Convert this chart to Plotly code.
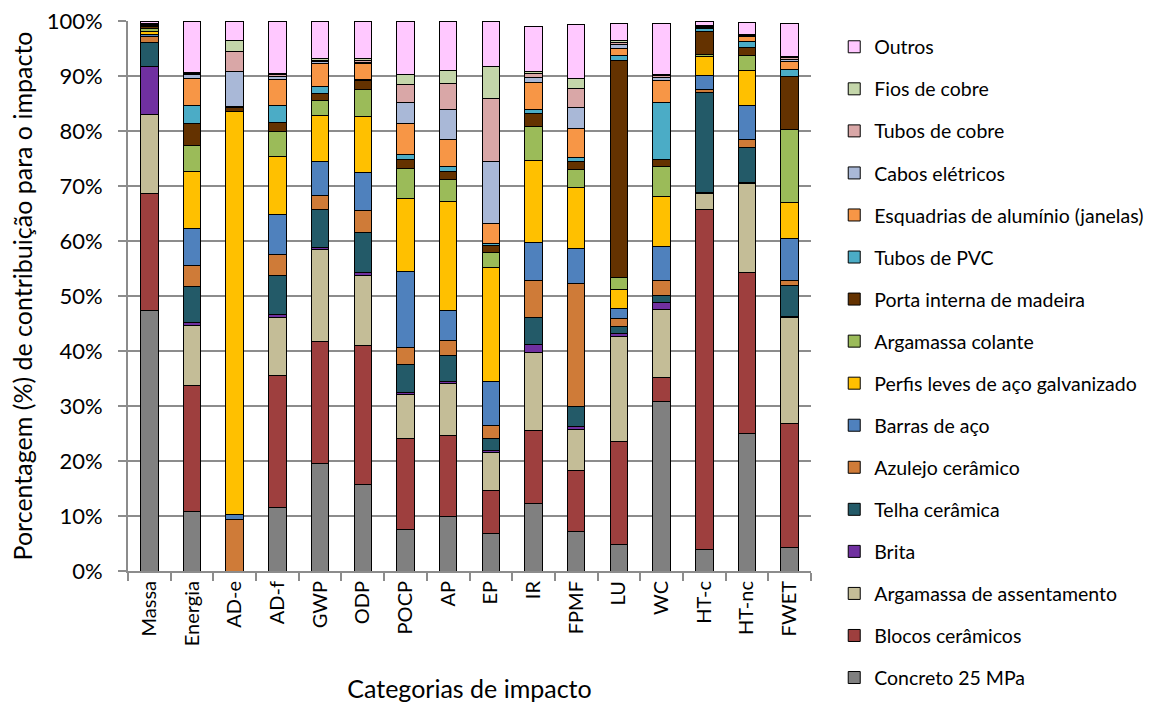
import plotly.graph_objects as go

categories = ["Massa", "Energia", "AD-e", "AD-f", "GWP", "ODP", "POCP", "AP", "EP",
              "IR", "FPMF", "LU", "WC", "HT-c", "HT-nc", "FWET"]

concreto = [47.3, 10.9, 0, 11.6, 19.6, 15.8, 7.5, 10.0, 6.8, 12.3, 7.1, 4.8, 30.8, 4.0, 25.0, 4.3]
blocos = [21.4, 22.9, 0, 24.0, 22.2, 25.2, 16.6, 14.7, 7.9, 13.2, 11.2, 18.8, 4.4, 61.8, 29.3, 22.5]
arg_assent = [14.3, 10.9, 0, 10.5, 16.6, 12.8, 8.0, 9.4, 6.9, 14.3, 7.5, 19.0, 12.3, 2.9, 16.2, 19.3]
brita = [8.8, 0.5, 0, 0.6, 0.5, 0.5, 0.4, 0.4, 0.3, 1.4, 0.4, 0.5, 1.4, 0.1, 0.1, 0.2]
telha = [4.3, 6.6, 0, 7.1, 6.9, 7.3, 5.1, 4.6, 2.2, 4.9, 3.7, 1.4, 1.2, 18.2, 6.4, 5.7]
azulejo = [1.0, 3.7, 9.3, 3.8, 2.5, 4.0, 3.1, 2.9, 2.4, 6.7, 22.4, 1.4, 2.7, 0.5, 1.5, 0.8]
barras = [0.5, 6.8, 1.0, 7.3, 6.2, 6.8, 13.8, 5.3, 8.0, 7.0, 6.4, 1.9, 6.2, 2.6, 6.2, 7.6]
perfis = [0.5, 10.4, 73.2, 10.4, 8.3, 10.3, 13.3, 19.9, 20.7, 14.9, 11.1, 3.4, 9.1, 3.4, 6.3, 6.6]
arg_colante = [0.6, 4.6, 0.0, 4.6, 2.8, 4.9, 5.4, 3.9, 2.7, 6.1, 3.2, 2.2, 5.5, 0.5, 2.7, 13.2]
porta = [0.3, 4.1, 0.7, 1.7, 1.2, 1.5, 1.7, 1.6, 1.2, 2.4, 1.4, 39.5, 1.3, 4.1, 1.5, 9.7]
pvc = [0.2, 3.3, 0.1, 3.1, 1.3, 0.2, 0.9, 0.8, 0.4, 0.7, 0.8, 0.8, 10.3, 0.6, 1.0, 1.3]
esquadrias = [0.1, 4.8, 0.2, 4.7, 4.2, 2.9, 5.6, 5.0, 3.7, 5.0, 5.2, 1.3, 4.0, 0.2, 0.9, 1.4]
cabos = [0.1, 0.7, 6.4, 0.6, 0.3, 0.3, 3.8, 5.4, 11.3, 0.9, 3.9, 0.7, 0.5, 0.1, 0.2, 0.4]
tubos_cobre = [0.1, 0.2, 3.6, 0.2, 0.2, 0.3, 3.3, 4.8, 11.5, 0.6, 3.5, 0.4, 0.4, 0.1, 0.2, 0.3]
fios_cobre = [0.1, 0.2, 2.0, 0.2, 0.3, 0.3, 1.7, 2.3, 5.8, 0.4, 1.8, 0.4, 0.2, 0.1, 0.1, 0.3]
outros = [0.4, 9.4, 3.5, 9.6, 6.9, 6.9, 9.8, 9.0, 8.2, 8.2, 9.7, 3.1, 9.3, 0.8, 2.2, 6.0]

series_names = ["Concreto 25 MPa", "Blocos cerâmicos", "Argamassa de assentamento", "Brita",
                "Telha cerâmica", "Azulejo cerâmico", "Barras de aço",
                "Perfis leves de aço galvanizado", "Argamassa colante", "Porta interna de madeira",
                "Tubos de PVC", "Esquadrias de alumínio (janelas)", "Cabos elétricos",
                "Tubos de cobre", "Fios de cobre", "Outros"]
series_values = [concreto, blocos, arg_assent, brita, telha, azulejo, barras, perfis,
                 arg_colante, porta, pvc, esquadrias, cabos, tubos_cobre, fios_cobre, outros]
series_colors = ["#808080", "#9E3F3E", "#C4BD97", "#7030A0", "#235A68", "#CF7B38", "#4F81BD",
                 "#FFC000", "#9BBB59", "#643200", "#4BACC6", "#F79646", "#A9B8D7",
                 "#D9A7A7", "#C4D6AA", "#FFC8FF"]

FONT = "Lato"

fig = go.Figure()
for i, (name, vals, col) in enumerate(zip(series_names, series_values, series_colors)):
    fig.add_trace(go.Bar(
        x=categories, y=vals, name=name, legendgroup=name, legendrank=1000 - i,
        marker=dict(color=col, line=dict(color="#000000", width=1)),
    ))

fig.update_layout(
    barmode="stack",
    bargap=0.59,
    width=1161, height=708,
    margin=dict(l=128, r=347, t=21, b=137),
    plot_bgcolor="white", paper_bgcolor="white",
    font=dict(family=FONT, size=20, color="#000000"),
    showlegend=True,
    legend=dict(
        x=1.034, y=0.988, xanchor="left", yanchor="top",
        traceorder="grouped", tracegroupgap=13.7,
        font=dict(family=FONT, size=19.5, color="#000000"),
        bgcolor="rgba(0,0,0,0)",
        maxheight=900,
    ),
    xaxis=dict(
        title=dict(text="Categorias de impacto", font=dict(family=FONT, size=25), standoff=35),
        tickangle=-90, tickfont=dict(family=FONT, size=20),
        showline=True, linecolor="#8C8C8C", linewidth=2,
        ticks="outside", tickson="boundaries", ticklen=8, tickcolor="#8C8C8C", tickwidth=2,
        range=[-0.5, 15.5], automargin=False,
    ),
    yaxis=dict(
        title=dict(text="Porcentagem (%) de contribuição para o impacto",
                   font=dict(family=FONT, size=25), standoff=7),
        range=[0, 100], dtick=10, ticksuffix="%",
        tickfont=dict(family=FONT, size=22),
        ticklabelstandoff=11, ticklabeloverflow="allow",
        showgrid=True, gridcolor="#8C8C8C", gridwidth=2,
        showline=True, linecolor="#8C8C8C", linewidth=2,
        ticks="outside", ticklen=8, tickcolor="#8C8C8C", tickwidth=2,
        zeroline=False, automargin=False,
    ),
)

fig.write_html("out.html", config={"displayModeBar": False},
               post_script="document.body.style.margin='0';document.body.style.overflow='hidden';")
